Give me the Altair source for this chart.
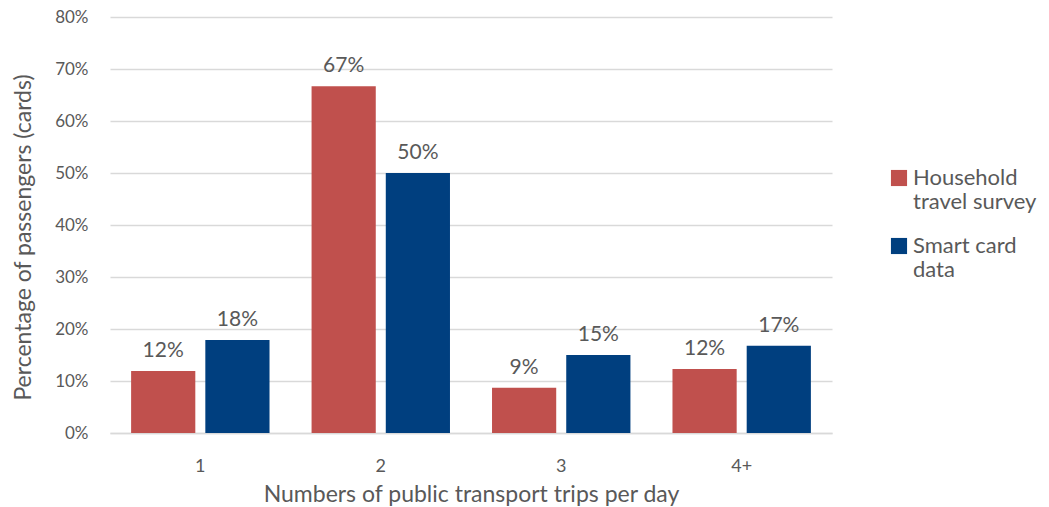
import altair as alt
import pandas as pd

categories = ["1", "2", "3", "4+"]
series = ["Household travel survey", "Smart card data"]
household = [0.119, 0.667, 0.087, 0.123]
smartcard = [0.179, 0.500, 0.150, 0.168]
labels_household = ["12%", "67%", "9%", "12%"]
labels_smart = ["18%", "50%", "15%", "17%"]

rows = []
for i, c in enumerate(categories):
    rows.append({"cat": c, "series": series[0], "value": household[i], "label": labels_household[i]})
    rows.append({"cat": c, "series": series[1], "value": smartcard[i], "label": labels_smart[i]})
df = pd.DataFrame(rows)

FONT = "Lato"
GREY = "#595959"

x = alt.X("cat:N", sort=categories,
          scale=alt.Scale(paddingInner=0.233, paddingOuter=0.117),
          axis=alt.Axis(title="Numbers of public transport trips per day", labelAngle=0,
                        labelFontSize=18, labelColor=GREY, labelPadding=24, ticks=False,
                        domainColor="#d9d9d9", domainWidth=1.5,
                        titleFontSize=23, titleFontWeight="normal", titleColor=GREY, titlePadding=8))
xo = alt.XOffset("series:N", sort=series, scale=alt.Scale(paddingInner=0.135, paddingOuter=0))
y = alt.Y("value:Q", scale=alt.Scale(domain=[0, 0.8]),
          axis=alt.Axis(title="Percentage of passengers (cards)", format=".0%", values=[i / 10 for i in range(9)],
                        labelFontSize=17, labelColor=GREY, labelPadding=22, ticks=False, domain=False,
                        gridColor="#d9d9d9", gridWidth=1.5,
                        titleFontSize=23, titleFontWeight="normal", titleColor=GREY, titlePadding=19,
                        titleY=220))

color = alt.Color("series:N", sort=series,
                  scale=alt.Scale(domain=series, range=["#C0504D", "#003F7F"]),
                  legend=alt.Legend(title=None, orient="none", legendX=778, legendY=150,
                                    symbolType="square", symbolSize=260, symbolStrokeWidth=0,
                                    labelFontSize=22, labelColor=GREY, labelLimit=220, labelOffset=3,
                                    rowPadding=22,
                                    labelExpr="datum.label == 'Household travel survey' ? ['Household', 'travel survey'] : ['Smart card', 'data']"))

bars = alt.Chart(df).mark_bar().encode(x=x, xOffset=xo, y=y, color=color)
text = alt.Chart(df).mark_text(baseline="bottom", dy=-10, fontSize=21, color=GREY, font=FONT).encode(
    x=x, xOffset=xo, y=y, text="label:N")

chart = (bars + text).properties(
    width=722, height=416,
    autosize=alt.AutoSizeParams(type="none"),
    padding={"left": 110, "top": 17, "right": 217, "bottom": 74},
).configure(font=FONT).configure_view(stroke=None)

chart.save("out.html", embed_options={"renderer": "svg", "actions": False})
